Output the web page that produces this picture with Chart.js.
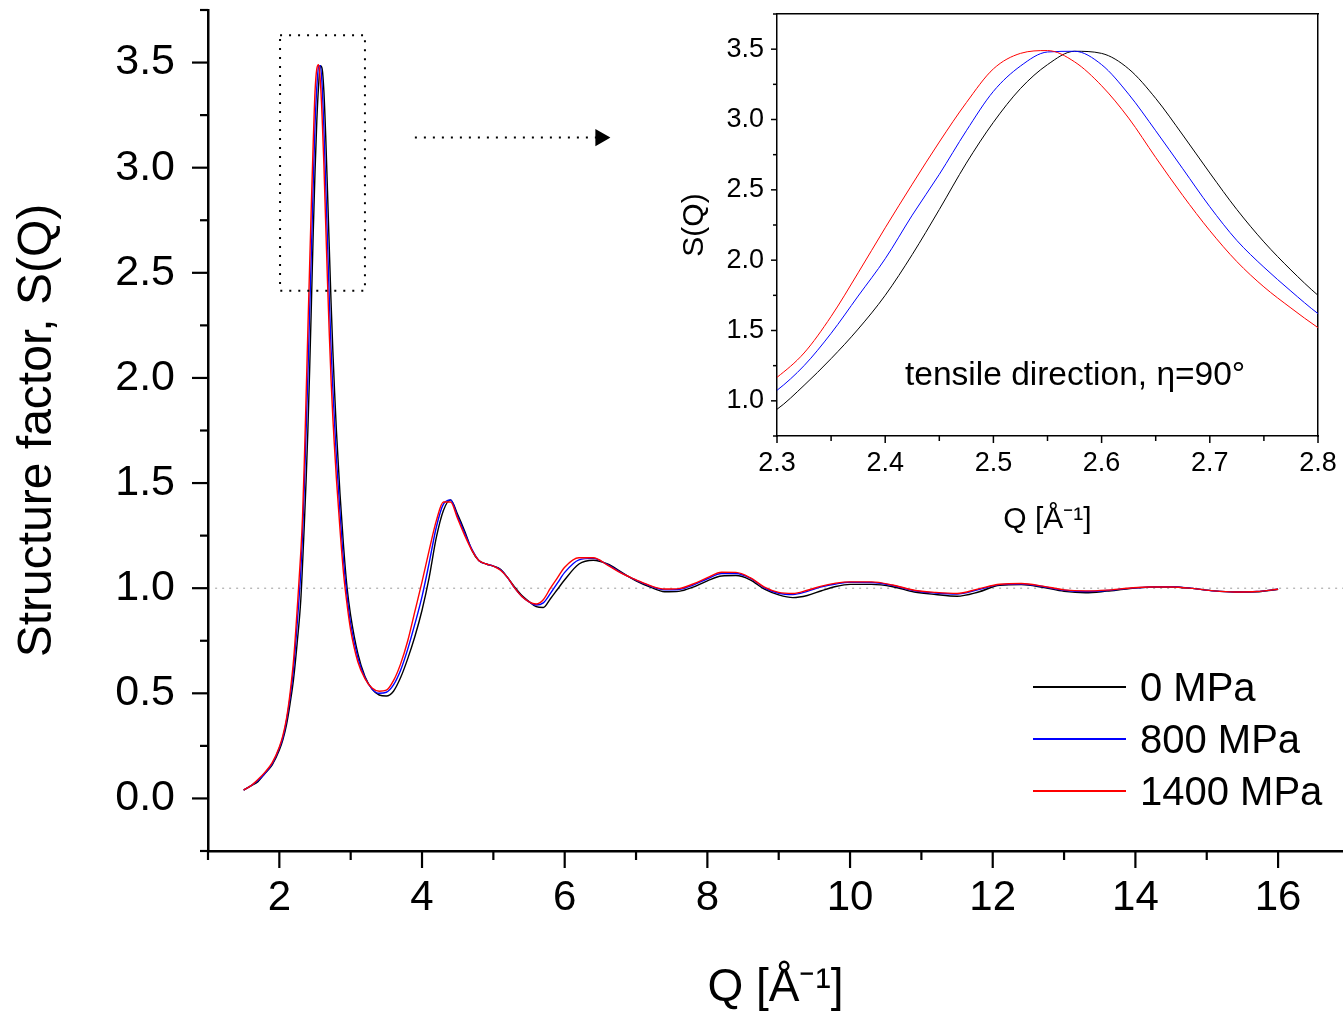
<!DOCTYPE html>
<html>
<head>
<meta charset="utf-8">
<script src="https://cdn.jsdelivr.net/npm/chart.js@4.4.1/dist/chart.umd.min.js"></script>
<style>
  body { margin: 0; background: #fff; }
  #wrap { position: relative; width: 1343px; height: 1016px; overflow: hidden; font-family: 'Liberation Sans', Arial, sans-serif; }
  #main { position: absolute; left: 0; top: 0; }
  #inset { position: absolute; left: 670px; top: 0; }
  #legend { position: absolute; left: 1033px; top: 661px; }
  .row { display: flex; align-items: center; height: 52px; }
  .ln { display: block; width: 93px; height: 2px; margin-right: 14px; }
  .tx { font-size: 40px; color: #000; }
  #note { position: absolute; left: 905px; top: 357px; font-size: 33.5px; line-height: 1; white-space: nowrap; color: #000; }
</style>
</head>
<body>
<div id="wrap">
  <canvas id="main" width="1343" height="1016"></canvas>
  <canvas id="inset" width="673" height="560"></canvas>
  <div id="note">tensile direction, η=90°</div>
  <div id="legend"></div>
</div>
<script>
const FONT = "'Liberation Sans', Arial, sans-serif";

// Q grid [1/Å], shared by all three curves
const qValues = [
  1.5, 1.6, 1.7, 1.8, 1.9, 2.0, 2.05, 2.1, 2.15, 2.2, 2.25,
  2.3, 2.325, 2.35, 2.375, 2.4, 2.425, 2.45, 2.475, 2.5, 2.525, 2.55, 2.575, 2.6, 2.625, 2.65, 2.675, 2.7, 2.725, 2.75, 2.775, 2.8,
  2.85, 2.9, 2.95, 3.0,
  3.1, 3.2, 3.3, 3.4, 3.5, 3.6, 3.7, 3.8, 3.9, 4.0, 4.1, 4.2, 4.3, 4.4, 4.5, 4.6, 4.7, 4.8, 4.9, 5.0,
  5.1, 5.2, 5.3, 5.4, 5.5, 5.6, 5.7, 5.8, 5.9, 6.0,
  6.2, 6.4, 6.6, 6.8, 7.0, 7.2, 7.4, 7.6, 7.8, 8.0, 8.2, 8.4, 8.6, 8.8, 9.0, 9.2, 9.4, 9.6, 9.8, 10.0,
  10.3, 10.6, 10.9, 11.2, 11.5, 11.8, 12.1, 12.4, 12.7, 13.0, 13.3, 13.6, 13.9, 14.2, 14.5, 14.8, 15.1, 15.4, 15.7, 16.0
];

// S(Q), 0 MPa
const s0MPa = [
  0.04, 0.06, 0.08, 0.12, 0.16, 0.23, 0.28, 0.35, 0.45, 0.57, 0.74,
  0.94, 1.11, 1.30, 1.51, 1.75, 2.04, 2.36, 2.69, 2.98, 3.22, 3.39, 3.485, 3.47, 3.36, 3.15, 2.89, 2.62, 2.36, 2.13, 1.93, 1.75,
  1.45, 1.20, 1.00, 0.87,
  0.69, 0.58, 0.52, 0.492, 0.487, 0.51, 0.575, 0.665, 0.77, 0.895, 1.05, 1.24, 1.37, 1.42, 1.35, 1.27, 1.18, 1.13, 1.115, 1.105,
  1.09, 1.05, 1.005, 0.965, 0.937, 0.912, 0.908, 0.95, 0.995, 1.04,
  1.115, 1.133, 1.115, 1.075, 1.035, 1.005, 0.983, 0.985, 1.005, 1.035, 1.058, 1.06, 1.04, 0.995, 0.968, 0.955, 0.965, 0.988, 1.008, 1.018,
  1.018, 1.007, 0.982, 0.97, 0.962, 0.982, 1.014, 1.017, 1.004, 0.985, 0.978, 0.986, 0.997, 1.005, 1.006, 0.999, 0.987, 0.982, 0.983, 0.995
];

// S(Q), 800 MPa
const s800MPa = [
  0.04, 0.06, 0.085, 0.12, 0.165, 0.24, 0.29, 0.37, 0.48, 0.62, 0.83,
  1.075, 1.25, 1.48, 1.745, 2.01, 2.32, 2.61, 2.92, 3.20, 3.38, 3.48, 3.485, 3.39, 3.18, 2.92, 2.65, 2.38, 2.14, 1.95, 1.78, 1.62,
  1.36, 1.13, 0.96, 0.83,
  0.67, 0.575, 0.52, 0.50, 0.505, 0.54, 0.61, 0.71, 0.83, 0.96, 1.12, 1.29, 1.40, 1.42, 1.34, 1.26, 1.185, 1.13, 1.115, 1.105,
  1.088, 1.05, 1.0, 0.96, 0.935, 0.92, 0.93, 0.975, 1.025, 1.075,
  1.135, 1.142, 1.112, 1.072, 1.038, 1.01, 0.992, 0.994, 1.015, 1.045, 1.07, 1.07, 1.048, 1.002, 0.976, 0.97, 0.985, 1.006, 1.02, 1.028,
  1.027, 1.013, 0.988, 0.977, 0.972, 0.993, 1.017, 1.02, 1.008, 0.99, 0.984, 0.989, 0.999, 1.006, 1.007, 0.999, 0.987, 0.982, 0.984, 0.995
];

// S(Q), 1400 MPa
const s1400MPa = [
  0.04, 0.06, 0.09, 0.125, 0.17, 0.245, 0.30, 0.38, 0.50, 0.66, 0.90,
  1.167, 1.34, 1.60, 1.91, 2.23, 2.54, 2.84, 3.12, 3.36, 3.47, 3.49, 3.41, 3.24, 3.01, 2.73, 2.46, 2.21, 1.99, 1.81, 1.66, 1.52,
  1.28, 1.07, 0.92, 0.80,
  0.65, 0.57, 0.525, 0.51, 0.515, 0.56, 0.64, 0.75, 0.89, 1.03, 1.18, 1.32, 1.41, 1.41, 1.33, 1.25, 1.18, 1.13, 1.115, 1.105,
  1.085, 1.05, 1.0, 0.96, 0.935, 0.925, 0.945, 1.0, 1.05, 1.10,
  1.145, 1.145, 1.11, 1.07, 1.04, 1.012, 0.996, 0.998, 1.02, 1.05, 1.076, 1.075, 1.05, 1.005, 0.98, 0.975, 0.99, 1.01, 1.024, 1.03,
  1.03, 1.015, 0.99, 0.98, 0.975, 0.997, 1.019, 1.022, 1.01, 0.992, 0.987, 0.991, 1.0, 1.006, 1.006, 0.999, 0.987, 0.982, 0.984, 0.995
];

const seriesNames = ['0 MPa', '800 MPa', '1400 MPa'];
const seriesColors = ['#000000', '#0000ff', '#ff0000'];
const seriesValues = [s0MPa, s800MPa, s1400MPa];

// S = 1 reference line, zoom box round the first peak, arrow to the inset
const refLineQ = [1.1, 16.95];
const refLineS = [1, 1];
const zoomBoxQ = [2.01, 3.2, 3.2, 2.01, 2.01];
const zoomBoxS = [3.63, 3.63, 2.415, 2.415, 3.63];
const arrowQ = [3.9, 6.5];
const arrowS = [3.143, 3.143];

const toPoints = (xs, ys) => xs.map((x, i) => ({ x, y: ys[i] }));

// fixed scale size, no extra room for edge labels
const fixSize = (w, h) => s => {
  if (w !== null) s.width = w;
  if (h !== null) s.height = h;
  s.paddingTop = 0;
  s.paddingBottom = 0;
  s.paddingLeft = 0;
  s.paddingRight = 0;
};

// outward tick marks, long for major and short for minor
const makeTickMarks = cfg => ({
  id: 'tickMarks',
  afterDraw(chart) {
    const ctx = chart.ctx;
    ctx.save();
    ctx.strokeStyle = '#000';
    ctx.lineWidth = cfg.width;
    ['x', 'y'].forEach(id => {
      const s = chart.scales[id];
      const c = cfg[id];
      s.ticks.forEach(t => {
        const len = c.isMajor(t.value) ? c.major : c.minor;
        const p = s.getPixelForValue(t.value);
        ctx.beginPath();
        if (id === 'x') {
          ctx.moveTo(p, s.top);
          ctx.lineTo(p, s.top + len);
        } else {
          ctx.moveTo(s.right, p);
          ctx.lineTo(s.right - len, p);
        }
        ctx.stroke();
      });
    });
    ctx.restore();
  },
});

const near = (v, step) => Math.abs(v / step - Math.round(v / step)) < 1e-6;

const curveSets = width => seriesNames.map((name, i) => ({
  label: name,
  data: toPoints(qValues, seriesValues[i]),
  borderColor: seriesColors[i],
  borderWidth: width,
  pointRadius: 0,
  fill: false,
  cubicInterpolationMode: 'monotone',
  order: 3 - i,
}));

new Chart(document.getElementById('main').getContext('2d'), {
  type: 'line',
  data: {
    datasets: [
      ...curveSets(1.4),
      {
        label: 'S=1',
        data: toPoints(refLineQ, refLineS),
        borderColor: '#9a9a9a',
        borderWidth: 1,
        borderDash: [2, 5],
        pointRadius: 0,
        order: 5,
      },
      {
        label: 'box',
        data: toPoints(zoomBoxQ, zoomBoxS),
        borderColor: '#000',
        borderWidth: 2,
        borderDash: [2, 7],
        pointRadius: 0,
        order: 0,
      },
      {
        label: 'arrow',
        data: toPoints(arrowQ, arrowS),
        borderColor: '#000',
        backgroundColor: '#000',
        borderWidth: 2,
        borderDash: [2, 7],
        pointStyle: 'triangle',
        rotation: 90,
        pointRadius: [0, 8],
        order: 0,
      },
    ],
  },
  options: {
    responsive: false,
    animation: false,
    devicePixelRatio: 1,
    layout: { autoPadding: false, padding: { top: 10, right: 0, left: 0, bottom: 0 } },
    plugins: { legend: { display: false }, tooltip: { enabled: false } },
    scales: {
      x: {
        type: 'linear',
        min: 1,
        max: 16.91,
        afterFit: fixSize(null, 165),
        grid: { display: false, drawTicks: false },
        border: { display: true, color: '#000', width: 2.5 },
        ticks: {
          stepSize: 1,
          includeBounds: false,
          autoSkip: false,
          maxRotation: 0,
          padding: 22,
          color: '#000',
          font: { family: FONT, size: 42 },
          callback: v => (near(v, 2) ? String(v) : ''),
        },
        title: {
          display: true,
          text: 'Q [Å⁻¹]',
          color: '#000',
          font: { family: FONT, size: 46 },
          padding: { top: 0, bottom: 0 },
        },
      },
      y: {
        type: 'linear',
        min: -0.25,
        max: 3.75,
        afterFit: fixSize(208, null),
        grid: { display: false, drawTicks: false },
        border: { display: true, color: '#000', width: 2.5 },
        ticks: {
          stepSize: 0.25,
          includeBounds: false,
          autoSkip: false,
          padding: 33,
          color: '#000',
          font: { family: FONT, size: 43 },
          callback: v => (near(v, 0.5) && v >= 0 && v <= 3.5 ? v.toFixed(1) : ''),
        },
        title: {
          display: true,
          text: 'Structure factor, S(Q)',
          color: '#000',
          font: { family: FONT, size: 48 },
          padding: { top: 9, bottom: 0 },
        },
      },
    },
  },
  plugins: [makeTickMarks({
    width: 2.2,
    x: { isMajor: v => near(v, 2), major: 17, minor: 9 },
    y: { isMajor: v => near(v, 0.5), major: 16, minor: 8 },
  })],
});

new Chart(document.getElementById('inset').getContext('2d'), {
  type: 'line',
  data: { datasets: curveSets(1) },
  options: {
    responsive: false,
    animation: false,
    devicePixelRatio: 1,
    layout: { autoPadding: false, padding: { top: 14, right: 25, left: 0, bottom: 0 } },
    plugins: { legend: { display: false }, tooltip: { enabled: false } },
    scales: {
      x: {
        type: 'linear',
        min: 2.3,
        max: 2.8,
        afterFit: fixSize(null, 124),
        grid: { display: false, drawTicks: false },
        border: { display: true, color: '#000', width: 1.5 },
        ticks: {
          stepSize: 0.05,
          autoSkip: false,
          maxRotation: 0,
          padding: 11,
          color: '#000',
          font: { family: FONT, size: 27 },
          callback: v => (near(v, 0.1) ? v.toFixed(1) : ''),
        },
        title: {
          display: true,
          text: 'Q [Å⁻¹]',
          color: '#000',
          font: { family: FONT, size: 30 },
          padding: { top: 0, bottom: 22 },
        },
      },
      y: {
        type: 'linear',
        min: 0.75,
        max: 3.75,
        afterFit: fixSize(107, null),
        grid: { display: false, drawTicks: false },
        border: { display: true, color: '#000', width: 1.5 },
        ticks: {
          stepSize: 0.25,
          autoSkip: false,
          padding: 13,
          color: '#000',
          font: { family: FONT, size: 27 },
          callback: v => (near(v, 0.5) && v >= 1 && v <= 3.5 ? v.toFixed(1) : ''),
        },
        title: {
          display: true,
          text: 'S(Q)',
          color: '#000',
          font: { family: FONT, size: 30 },
          padding: { top: 7, bottom: 0 },
        },
      },
      x2: {
        type: 'linear',
        position: 'top',
        min: 2.3,
        max: 2.8,
        afterFit: fixSize(null, 0),
        grid: { display: false, drawTicks: false },
        border: { display: true, color: '#000', width: 1.5 },
        ticks: { display: false },
      },
      y2: {
        type: 'linear',
        position: 'right',
        min: 0.75,
        max: 3.75,
        afterFit: fixSize(0, null),
        grid: { display: false, drawTicks: false },
        border: { display: true, color: '#000', width: 1.5 },
        ticks: { display: false },
      },
    },
  },
  plugins: [makeTickMarks({
    width: 1.5,
    x: { isMajor: v => near(v, 0.1), major: 7, minor: 5 },
    y: { isMajor: v => near(v, 0.5), major: 6, minor: 4 },
  })],
});

// HTML legend from the series lists
const legend = document.getElementById('legend');
seriesNames.forEach((name, i) => {
  const row = document.createElement('div');
  row.className = 'row';
  const ln = document.createElement('span');
  ln.className = 'ln';
  ln.style.backgroundColor = seriesColors[i];
  const tx = document.createElement('span');
  tx.className = 'tx';
  tx.textContent = name;
  row.appendChild(ln);
  row.appendChild(tx);
  legend.appendChild(row);
});
</script>
</body>
</html>
